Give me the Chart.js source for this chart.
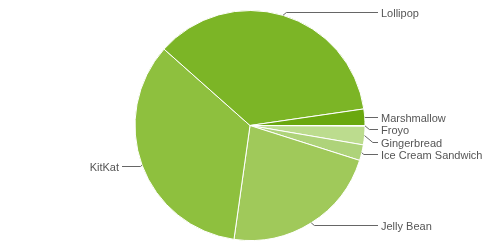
<!DOCTYPE html>
<html>
<head>
<meta charset="utf-8">
<script src="https://cdn.jsdelivr.net/npm/chart.js@4/dist/chart.umd.min.js"></script>
<style>
html,body{margin:0;padding:0;background:#fff;}
canvas{display:block;}
</style>
</head>
<body>
<canvas id="c" width="500" height="250"></canvas>
<script>
const categories = ["Froyo", "Gingerbread", "Ice Cream Sandwich", "Jelly Bean", "KitKat", "Lollipop", "Marshmallow"];
const shares = [0.1, 2.6, 2.2, 22.3, 34.3, 36.1, 2.3];
const colors = ["#c6e29e", "#bcdc8e", "#aed37a", "#a0c95a", "#8ec03e", "#7cb526", "#6aa80f"];

const leaderPlugin = {
  id: 'leaders',
  afterDatasetsDraw(chart) {
    const ctx = chart.ctx;
    const meta = chart.getDatasetMeta(0);
    const items = meta.data.map((arc, i) => {
      const p = arc.getProps(['x', 'y', 'startAngle', 'endAngle', 'outerRadius'], true);
      const mid = (p.startAngle + p.endAngle) / 2;
      const r = p.outerRadius;
      return {
        label: categories[i],
        cx: p.x, cy: p.y, r: r,
        px: p.x + Math.cos(mid) * r,
        py: p.y + Math.sin(mid) * r,
        ty: p.y + Math.sin(mid) * (r + 3),
        right: Math.cos(mid) >= 0
      };
    });
    const gap = 12.4;
    [true, false].forEach(side => {
      const list = items.filter(it => it.right === side).sort((a, b) => a.ty - b.ty);
      for (let k = 1; k < list.length; k++) {
        if (list[k].ty < list[k - 1].ty + gap) list[k].ty = list[k - 1].ty + gap;
      }
    });
    ctx.save();
    ctx.font = '11px "Liberation Sans", Arial, sans-serif';
    ctx.textBaseline = 'alphabetic';
    items.forEach(it => {
      const dir = it.right ? 1 : -1;
      const lineEnd = it.cx + dir * (it.r + 13);
      const textX = it.cx + dir * (it.r + 16);
      const ly = Math.round(it.ty) + 0.5;
      const dy = Math.abs(ly - it.py);
      const ex = it.px + dir * dy * 1.2;
      ctx.strokeStyle = '#666666';
      ctx.lineWidth = 1;
      ctx.beginPath();
      ctx.moveTo(it.px, it.py);
      ctx.lineTo(ex, ly);
      ctx.lineTo(lineEnd, ly);
      ctx.stroke();
      ctx.fillStyle = '#555555';
      ctx.textAlign = it.right ? 'left' : 'right';
      ctx.fillText(it.label, textX, ly + 4);
    });
    ctx.restore();
  }
};

new Chart(document.getElementById('c'), {
  type: 'pie',
  data: {
    labels: categories,
    datasets: [{
      data: shares,
      backgroundColor: colors,
      borderColor: '#ffffff',
      borderWidth: 1
    }]
  },
  options: {
    responsive: false,
    animation: false,
    rotation: 90,
    layout: { padding: { top: 10, bottom: 9, left: 0, right: 0 } },
    plugins: { legend: { display: false }, tooltip: { enabled: false } }
  },
  plugins: [leaderPlugin]
});
</script>
</body>
</html>
